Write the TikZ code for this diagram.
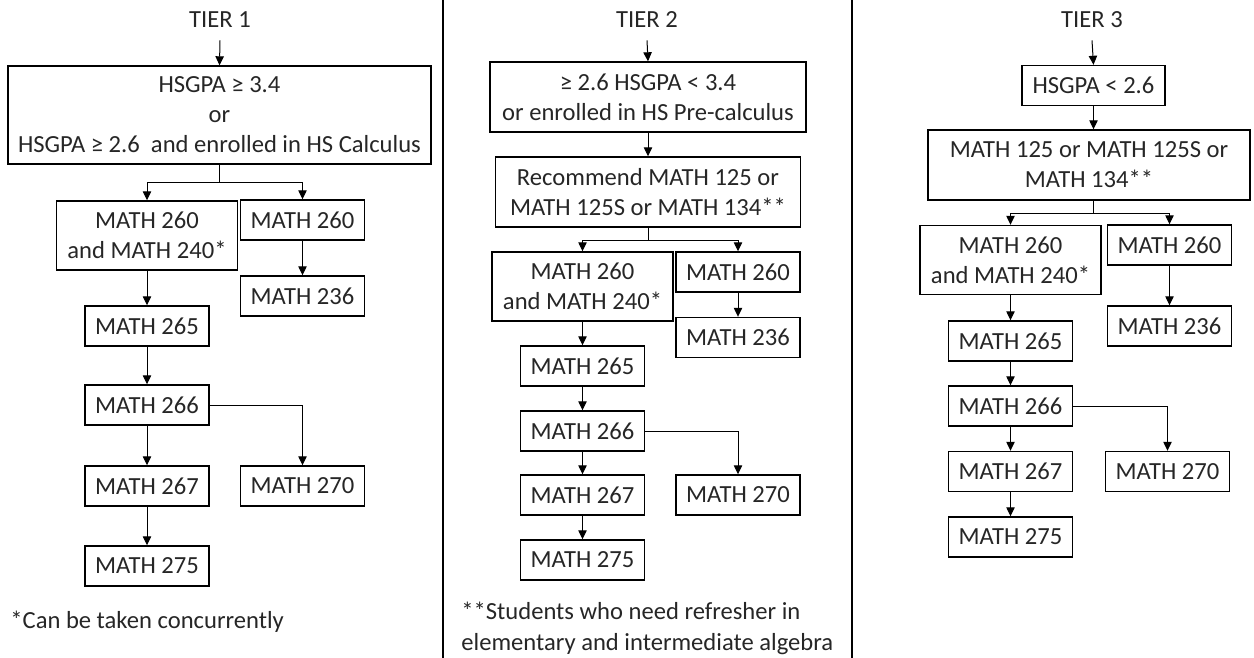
\documentclass[tikz,border=0pt]{standalone}
\usepackage{fontspec}
\setmainfont{Carlito}
\usetikzlibrary{arrows.meta}

\tikzset{
  course/.style={draw, line width=0.7pt, inner sep=0pt, align=center,
    minimum width=62pt, minimum height=20pt},
  widecourse/.style={course, minimum width=90.5pt, minimum height=34.5pt},
  tierlabel/.style={inner sep=0pt},
  flow/.style={-{Triangle[length=4.5pt,width=4.2pt]}, line width=0.5pt},
  link/.style={line width=0.5pt}
}

\begin{document}
\begin{tikzpicture}[x=0.5pt,y=-0.5pt,font=\fontsize{12.3}{15}\selectfont,text=black!85]
	\useasboundingbox (0,0) rectangle (1254,658);

	% dividers
	\draw[line width=0.6pt] (443,0) -- (443,658);
	\draw[line width=0.6pt] (852,0) -- (852,658);

	% tier 1
	\node[tierlabel] (t1) at (220,20) {TIER 1};
	\node[course, minimum width=211.5pt, minimum height=49pt] (cond1) at (219.5,115)
		{HSGPA ≥ 3.4\\or\\HSGPA ≥ 2.6\ \ and enrolled in HS Calculus};
	\node[widecourse] (a1) at (147,235.5) {MATH 260\\and MATH 240*};
	\node[course] (b1) at (302.5,220) {MATH 260};
	\node[course] (c1) at (302.5,296) {MATH 236};
	\node[course] (d1) at (147,326) {MATH 265};
	\node[course] (e1) at (147,405) {MATH 266};
	\node[course] (f1) at (147,486) {MATH 267};
	\node[course] (g1) at (302.5,486) {MATH 270};
	\node[course] (h1) at (147,566) {MATH 275};
	\node[anchor=west, inner sep=0pt] (note1) at (10,622) {*Can be taken concurrently};

	\draw[flow] ([yshift=-6pt]t1.south) -- (cond1.north);
	\draw[link] (cond1.south) -- ++(0,18) coordinate (s1);
	\draw[flow] (s1) -| (a1.north);
	\draw[flow] (s1) -| (b1.north);
	\draw[flow] (b1) -- (c1);
	\draw[flow] (a1) -- (d1);
	\draw[flow] (d1) -- (e1);
	\draw[flow] (e1.east) -| (g1.north);
	\draw[flow] (e1) -- (f1);
	\draw[flow] (f1) -- (h1);

	% tier 2
	\node[tierlabel] (t2) at (647,20) {TIER 2};
	\node[course, minimum width=158pt, minimum height=35pt] (cond2) at (648,97)
		{≥ 2.6 HSGPA < 3.4\\or enrolled in HS Pre-calculus};
	\node[course, minimum width=152.5pt, minimum height=35pt] (rec2) at (648,192)
		{Recommend MATH 125 or\\MATH 125S or MATH 134**};
	\node[widecourse] (a2) at (582.5,286.5) {MATH 260\\and MATH 240*};
	\node[course] (b2) at (738,272) {MATH 260};
	\node[course] (c2) at (738,337.5) {MATH 236};
	\node[course] (d2) at (582.5,366) {MATH 265};
	\node[course] (e2) at (582.5,431) {MATH 266};
	\node[course] (f2) at (582.5,495) {MATH 267};
	\node[course] (g2) at (738,495) {MATH 270};
	\node[course] (h2) at (582.5,560) {MATH 275};
	\node[anchor=north west, align=left, inner sep=0pt, font=\fontsize{12.3}{15.5}\selectfont] (note2) at (461,602)
		{**Students who need refresher in\\elementary and intermediate algebra};

	\draw[flow] ([yshift=-6pt]t2.south) -- (cond2.north);
	\draw[flow] (cond2) -- (rec2);
	\draw[link] (rec2.south) -- ++(0,13) coordinate (s2);
	\draw[flow] (s2) -| (a2.north);
	\draw[flow] (s2) -| (b2.north);
	\draw[flow] (b2) -- (c2);
	\draw[flow] (a2) -- (d2);
	\draw[flow] (d2) -- (e2);
	\draw[flow] (e2.east) -| (g2.north);
	\draw[flow] (e2) -- (f2);
	\draw[flow] (f2) -- (h2);

	% tier 3
	\node[tierlabel] (t3) at (1092,20) {TIER 3};
	\node[course, minimum width=71.5pt] (cond3) at (1093.5,85.5) {HSGPA < 2.6};
	\node[course, minimum width=161pt, minimum height=35pt] (rec3) at (1089,165)
		{MATH 125 or MATH 125S or\\MATH 134**};
	\node[widecourse] (a3) at (1010.5,260) {MATH 260\\and MATH 240*};
	\node[course] (b3) at (1169.5,245) {MATH 260};
	\node[course] (c3) at (1169.5,326) {MATH 236};
	\node[course] (d3) at (1010.5,341) {MATH 265};
	\node[course] (e3) at (1010.5,406) {MATH 266};
	\node[course] (f3) at (1010.5,471.5) {MATH 267};
	\node[course] (g3) at (1167.5,471.5) {MATH 270};
	\node[course] (h3) at (1010.5,537) {MATH 275};

	\draw[flow] ([yshift=-6pt]t3.south) -- (cond3.north);
	\draw[flow] (cond3) -- (cond3 |- rec3.north);
	\draw[link] (cond3 |- rec3.south) -- ++(0,13) coordinate (s3);
	\draw[flow] (s3) -| (a3.north);
	\draw[flow] (s3) -| (b3.north);
	\draw[flow] (b3) -- (c3);
	\draw[flow] (a3) -- (d3);
	\draw[flow] (d3) -- (e3);
	\draw[flow] (e3.east) -| (g3.north);
	\draw[flow] (e3) -- (f3);
	\draw[flow] (f3) -- (h3);
\end{tikzpicture}
\end{document}
